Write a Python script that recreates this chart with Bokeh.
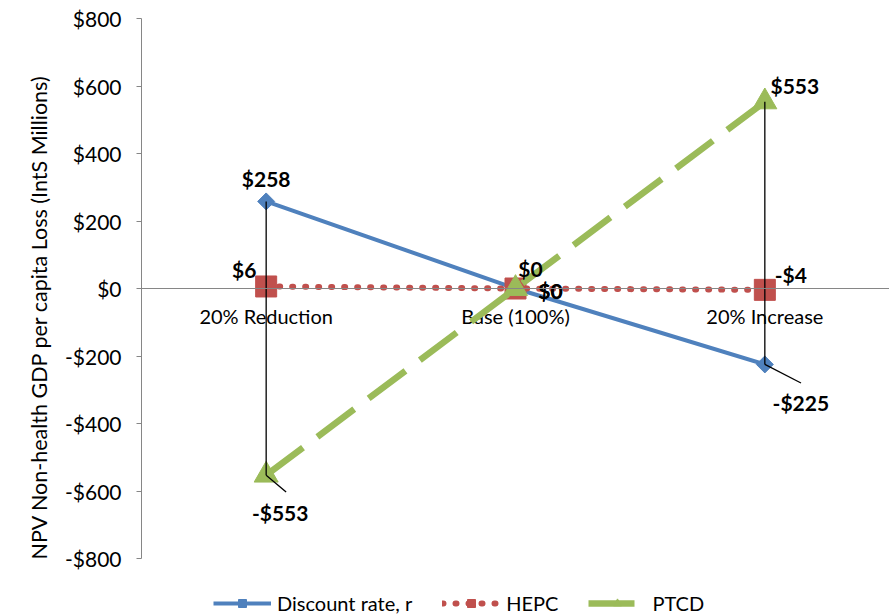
from bokeh.plotting import figure
from bokeh.models import (FactorRange, Range1d, FixedTicker, Legend, LegendItem,
                          ColumnDataSource, Span)
from bokeh.transform import dodge
from bokeh.core.properties import value
from bokeh.embed import file_html
from bokeh.resources import INLINE

categories = ["20% Reduction", "Base (100%)", "20% Increase"]
discount_rate = [258, 0, -225]
hepc = [6, 0, -4]
ptcd = [-553, 0, 553]
discount_labels = ["$258", "$0", "-$225"]
hepc_labels = ["$6", "$0", "-$4"]
ptcd_labels = ["-$553", "$0", "$553"]
y_ticks = [-800, -600, -400, -200, 0, 200, 400, 600, 800]
y_tick_labels = ["-$800", "-$600", "-$400", "-$200", "$0", "$200", "$400", "$600", "$800"]

FONT = "Lato"
BLUE = "#4F81BD"
RED = "#C0504D"
GREEN = "#9BBB59"
GRAY = "#868686"

# axis spans -800..800 over 540 px; the frame extends 57 px further down for the legend
Y_MIN, Y_MAX = -800, 800
extra = 57 * (Y_MAX - Y_MIN) / 540

p = figure(x_range=FactorRange(*categories, range_padding=0),
           y_range=Range1d(Y_MIN - extra, Y_MAX),
           frame_width=748, frame_height=597, x_axis_location=None,
           min_border_left=141, min_border_right=0, min_border_top=18, min_border_bottom=0,
           output_backend="svg", toolbar_location=None)
p.outline_line_color = None
p.xgrid.grid_line_color = None
p.ygrid.grid_line_color = None
p.background_fill_color = "white"

# y axis
ya = p.yaxis[0]
ya.ticker = FixedTicker(ticks=y_ticks)
ya.bounds = (Y_MIN, Y_MAX)
ya.major_label_overrides = {t: l for t, l in zip(y_ticks, y_tick_labels)}
ya.axis_line_color = GRAY
ya.major_tick_line_color = GRAY
ya.major_tick_in = 0
ya.major_tick_out = 5
ya.minor_tick_line_color = None
ya.major_label_text_font = FONT
ya.major_label_text_font_size = "21px"
ya.major_label_text_color = "black"
ya.major_label_standoff = 15
ya.axis_label = "NPV Non-health GDP per capita Loss (IntS Millions)"
ya.axis_label_text_font = FONT
ya.axis_label_text_font_size = "21.5px"
ya.axis_label_text_font_style = "normal"
ya.axis_label_text_color = "black"
ya.axis_label_standoff = 10

# horizontal axis line at zero and category labels
p.add_layout(Span(location=0, dimension="width", line_color=GRAY, line_width=1))
p.text(x=categories, y=[0] * len(categories), text=categories, y_offset=27,
       text_font=value(FONT), text_font_size="20px", text_align="center",
       text_baseline="middle", text_color="black")

src = ColumnDataSource(dict(x=categories, d=discount_rate, h=hepc, t=ptcd,
                            dl=discount_labels, hl=hepc_labels, tl=ptcd_labels,
                            hi=[max(a, b, c) for a, b, c in zip(discount_rate, hepc, ptcd)],
                            lo=[min(a, b, c) for a, b, c in zip(discount_rate, hepc, ptcd)]))

l1 = p.line("x", "d", source=src, line_color=BLUE, line_width=4)
m1 = p.scatter("x", "d", source=src, marker="square", angle=0.785398, size=12,
               fill_color=BLUE, line_color=BLUE)
l2 = p.line("x", "h", source=src, line_color=RED, line_width=6, line_dash="1 12",
            line_cap="round")
m2 = p.scatter("x", "h", source=src, marker="square", size=21, fill_color=RED, line_color=RED)
l3 = p.line("x", "t", source=src, line_color=GREEN, line_width=6.5, line_dash="46 18")
m3 = p.scatter("x", "t", source=src, marker="triangle", size=24, fill_color=GREEN,
               line_color=GREEN)

# high-low lines
p.segment(x0="x", y0="hi", x1="x", y1="lo", source=src, line_color="black", line_width=1.3)

# leader lines for two labels
p.segment(x0="x", y0="y0", x1=dodge("x", 0.08, range=p.x_range), y1="y1",
          source=ColumnDataSource(dict(x=[categories[0]], y0=[ptcd[0]], y1=[ptcd[0] - 50])),
          line_color="black", line_width=1.3)
p.segment(x0="x", y0="y0", x1=dodge("x", 0.145, range=p.x_range), y1="y1",
          source=ColumnDataSource(dict(x=[categories[2]], y0=[discount_rate[2]],
                                       y1=[discount_rate[2] - 55])),
          line_color="black", line_width=1.3)

# data labels
dx_d = [0, 35, 36]
dy_d = [-23, 2, 38]
dx_h = [-22, 35, 26]
dy_h = [-17, 2, -15]
dx_t = [14, 15, 30]
dy_t = [37, -20, -16]
for col, lab, dxs, dys in [("d", "dl", dx_d, dy_d), ("h", "hl", dx_h, dy_h), ("t", "tl", dx_t, dy_t)]:
    for i in range(3):
        s = ColumnDataSource(dict(x=[src.data["x"][i]], y=[src.data[col][i]], t=[src.data[lab][i]]))
        p.text("x", "y", text="t", source=s, x_offset=dxs[i], y_offset=dys[i],
               text_font=value(FONT), text_font_size="21px", text_font_style="bold",
               text_align="center", text_baseline="middle", text_color="black")

legend = Legend(items=[
    LegendItem(label="Discount rate, r", renderers=[l1, m1]),
    LegendItem(label="HEPC", renderers=[l2, m2]),
    LegendItem(label="PTCD", renderers=[l3, m3]),
], orientation="horizontal", location=(72, 0))
legend.label_text_font = FONT
legend.label_text_font_size = "20px"
legend.label_text_color = "black"
legend.glyph_width = 58
legend.glyph_height = 20
legend.spacing = 30
legend.label_standoff = 6
legend.border_line_color = None
legend.background_fill_alpha = 0
legend.padding = 2
legend.margin = 0
p.add_layout(legend, "center")

open("out.html", "w").write(file_html(p, INLINE))
